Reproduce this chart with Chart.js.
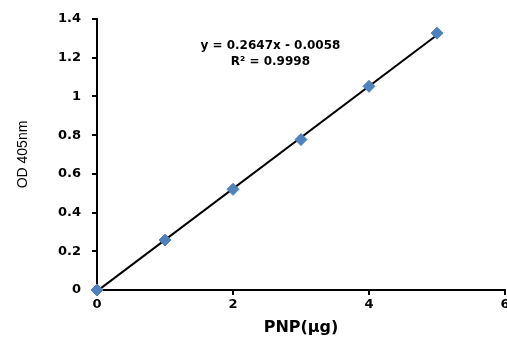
<!DOCTYPE html>
<html>
<head>
<meta charset="utf-8">
<script src="https://cdn.jsdelivr.net/npm/chart.js@4.4.0/dist/chart.umd.min.js"></script>
<style>
  html, body { margin: 0; padding: 0; background: #fff; }
  #wrap { width: 507px; height: 338px; }
</style>
</head>
<body>
<div id="wrap"><canvas id="chart"></canvas></div>
<script>
// measured points
const pnpUg = [0, 1, 2, 3, 4, 5];
const od405 = [0, 0.258, 0.52, 0.777, 1.052, 1.327];
// linear fit shown on the chart
const slope = 0.2647;
const intercept = -0.0058;
const rSquared = 0.9998;
const xTicks = [0, 2, 4, 6];
const yTicks = [0, 0.2, 0.4, 0.6, 0.8, 1, 1.2, 1.4];

const fitPoints = [0, 5].map(x => ({ x: x, y: slope * x + intercept }));
const font = "'DejaVu Sans', sans-serif";

//writes the equation text in the plot
const equationLabel = {
  id: 'equationLabel',
  afterDraw(chart) {
    const ctx = chart.ctx;
    const xs = chart.scales.x, ys = chart.scales.y;
    const cx = xs.getPixelForValue(2.55);
    ctx.save();
    ctx.fillStyle = '#000';
    ctx.font = 'bold 12px ' + font;
    ctx.textAlign = 'center';
    ctx.textBaseline = 'middle';
    ctx.fillText('y = ' + slope + 'x - ' + Math.abs(intercept).toFixed(4), cx, ys.getPixelForValue(1.26));
    ctx.fillText('R² = ' + rSquared, cx, ys.getPixelForValue(1.18));
    ctx.restore();
  }
};

new Chart(document.getElementById('chart'), {
  type: 'scatter',
  plugins: [equationLabel],
  data: {
    datasets: [
      {
        type: 'line',
        data: fitPoints,
        borderColor: '#000',
        borderWidth: 2,
        pointRadius: 0,
        clip: false,
        order: 2
      },
      {
        data: pnpUg.map((x, i) => ({ x: x, y: od405[i] })),
        pointStyle: 'rectRot',
        pointRadius: 6,
        backgroundColor: '#4F81BD',
        borderColor: '#4F81BD',
        clip: false,
        order: 1
      }
    ]
  },
  options: {
    responsive: true,
    maintainAspectRatio: false,
    animation: false,
    layout: { autoPadding: false, padding: { top: 19, right: 2, left: 0, bottom: 0 } },
    plugins: { legend: { display: false }, tooltip: { enabled: false } },
    scales: {
      x: {
        type: 'linear',
        min: 0, max: 6,
        afterBuildTicks: s => { s.ticks = xTicks.map(v => ({ value: v })); },
        grid: { drawOnChartArea: false, tickLength: 5, color: '#000', lineWidth: 2 },
        border: { color: '#000', width: 2 },
        ticks: { color: '#000', font: { family: font, size: 13, weight: 'bold' }, padding: 2, maxRotation: 0 },
        title: { display: true, text: 'PNP(μg)', color: '#000', font: { family: font, size: 16, weight: 'bold' }, padding: { top: 0, bottom: 1 } },
        afterFit: s => { s.height = 48; s.paddingLeft = 0; s.paddingRight = 0; }
      },
      y: {
        min: 0, max: 1.4,
        afterBuildTicks: s => { s.ticks = yTicks.map(v => ({ value: v })); },
        grid: { drawOnChartArea: false, tickLength: 5, color: '#000', lineWidth: 2 },
        border: { color: '#000', width: 2 },
        ticks: { color: '#000', font: { family: font, size: 13, weight: 'bold' }, padding: 11, callback: v => String(+v.toFixed(1)) },
        title: { display: true, text: 'OD 405nm', color: '#000', font: { family: "'Liberation Sans', sans-serif", size: 14 }, padding: { top: 15, bottom: 0 } },
        afterFit: s => { s.width = 97; s.paddingTop = 0; s.paddingBottom = 0; }
      }
    }
  }
});
</script>
</body>
</html>
